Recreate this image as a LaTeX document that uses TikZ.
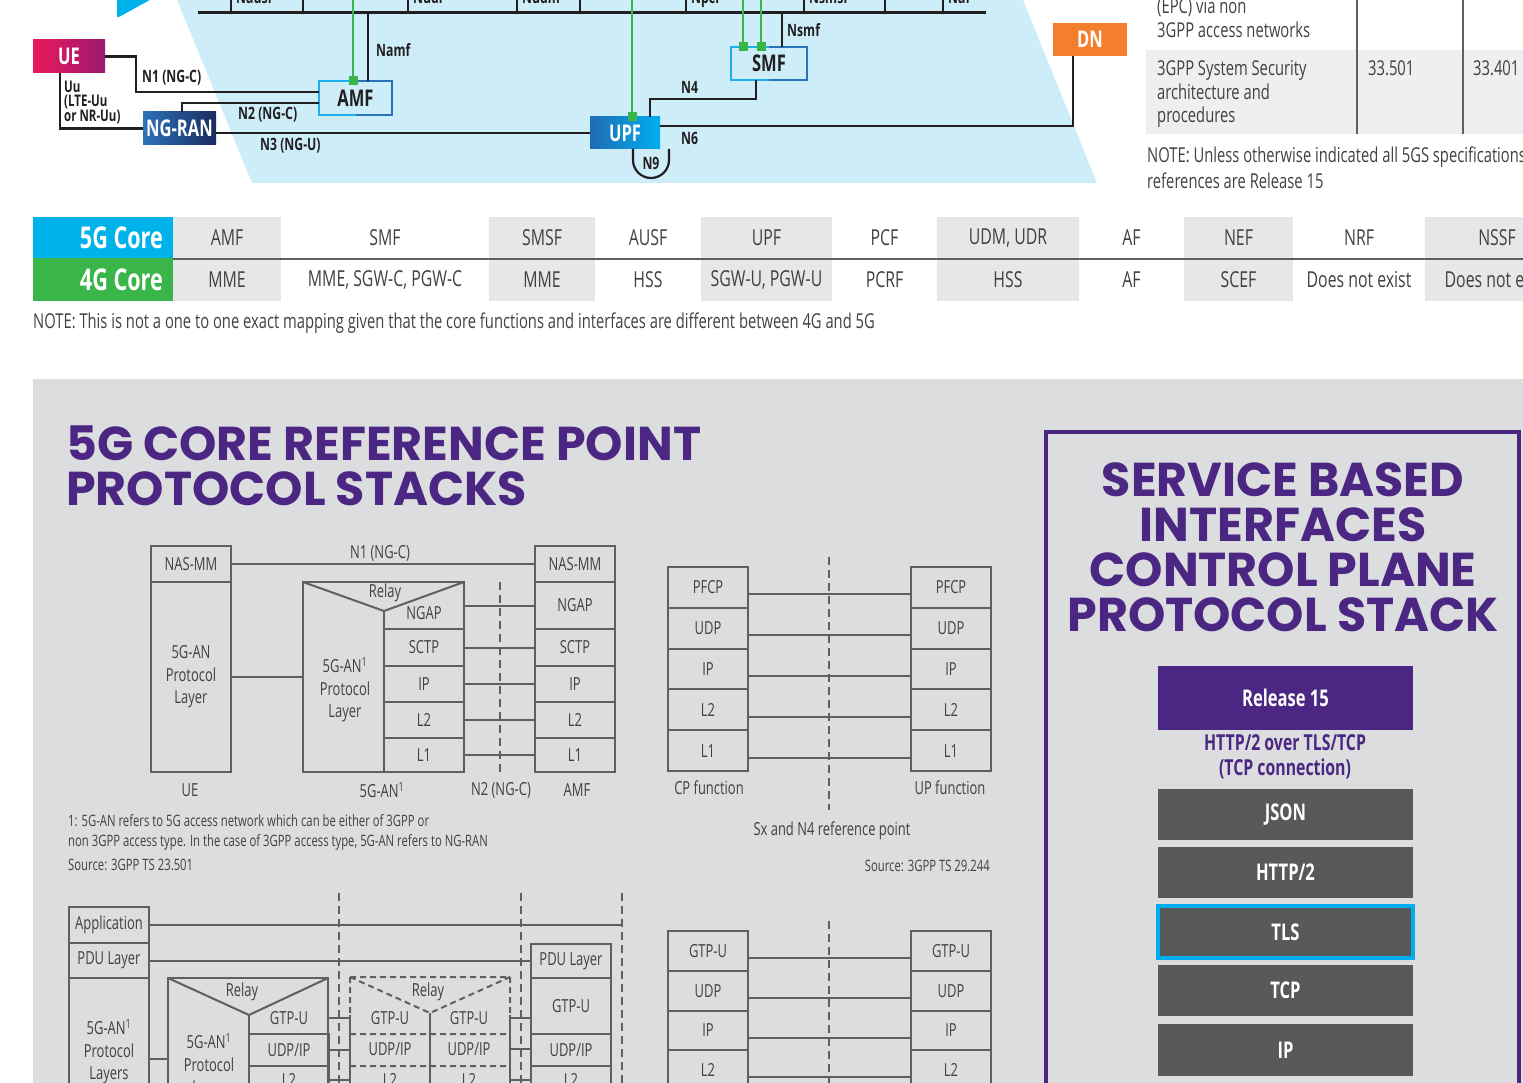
\documentclass[tikz,border=0pt]{standalone}
\usepackage{fontspec}
\setmainfont{Open Sans}
\newfontfamily\condfont[FakeStretch=0.72]{Open Sans}
\newfontfamily\titlefont{Poppins}
\usetikzlibrary{calc}

\definecolor{skyback}{HTML}{CDEEF9}
\definecolor{panelgrey}{HTML}{DCDDDE}
\definecolor{cellgrey}{HTML}{E6E7E8}
\definecolor{rowgrey}{HTML}{EEEFF0}
\definecolor{corepurple}{HTML}{4B2683}
\definecolor{boxgrey}{HTML}{58595B}
\definecolor{stackline}{HTML}{5E5F61}
\definecolor{stacktext}{HTML}{414042}
\definecolor{cyanfive}{HTML}{00B2EA}
\definecolor{greenfour}{HTML}{3AB54A}
\definecolor{sbagreen}{HTML}{39B54A}
\definecolor{dnorange}{HTML}{F37F2C}
\definecolor{uepinkL}{HTML}{E9185C}
\definecolor{uepinkR}{HTML}{9E1A6E}
\definecolor{ranblueL}{HTML}{2C73BA}
\definecolor{ranblueR}{HTML}{1B2B5C}
\definecolor{upfblueL}{HTML}{1F6CB4}
\definecolor{upfblueR}{HTML}{00AEEF}
\definecolor{nfcyan}{HTML}{1DB0EC}
\definecolor{nfblue}{HTML}{2A73BA}
\definecolor{inktext}{HTML}{231F20}

\newcommand{\fsz}[2]{\fontsize{#1}{#2}\selectfont}
% name, left x, top y, bottom y, text
\newcommand{\stk}[5]{\node[stacklayer, minimum height={(#4)-(#3)}] (#1) at (#2,{#3}) {#5};}

\begin{document}
\begin{tikzpicture}[x=1pt, y=-1pt,
    link/.style={draw=inktext, line width=2.2pt},
    sbi/.style={draw=sbagreen, line width=2.2pt},
    lbl/.style={font=\condfont\bfseries\fsz{17}{14}, text=inktext, inner sep=0pt},
    nfbox/.style={minimum width=73pt, minimum height=33pt, inner sep=0pt, outer sep=0pt, font=\condfont\bfseries\fsz{23}{23}, text=white},
    cpbox/.style={nfbox, draw=nfcyan, fill=skyback, line width=2.5pt, text=inktext},
    mapcell/.style={font=\condfont\fsz{22}{22}, text=stacktext, inner sep=0pt},
    hdr/.style={font=\condfont\bfseries\fsz{30}{30}, text=white, inner sep=0pt},
    note/.style={font=\condfont\fsz{20.5}{24}, text=stacktext, inner sep=0pt},
    ttl/.style={font=\titlefont\bfseries\fsz{47.5}{45}, text=corepurple, inner sep=0pt},
    sbabox/.style={minimum width=255pt, inner sep=0pt, font=\condfont\bfseries\fsz{23}{23}, text=white},
    stacklayer/.style={draw=stackline, line width=2pt, minimum width=80pt, inner sep=0pt, outer sep=0pt, anchor=north west, align=center, font=\condfont\fsz{18}{22.5}, text=stacktext},
    stxt/.style={font=\condfont\fsz{18}{22.5}, text=stacktext, inner sep=0pt, align=center},
    foot/.style={font=\condfont\fsz{15.7}{18}, text=stacktext, inner sep=0pt},
    wire/.style={draw=stackline, line width=2pt},
    refline/.style={draw=stackline, line width=1.8pt, dash pattern=on 8pt off 5pt}]

  \useasboundingbox (0,0) rectangle (1523,1083);

  % ---- architecture strip
  \fill[skyback] (173,-10) -- (1019,-10) -- (1097,183) -- (252,183) -- cycle;
  \fill[cyanfive, rounded corners=2pt] (117,-5) -- (159,-5) -- (117,18) -- cycle;

  \draw[link] (198,12.5) -- (986,12.5);
  \foreach \x in {231,303,408,517,580,686,804,885,943}
    \draw[link] (\x,12.5) -- (\x,-5);
  \foreach \x/\t [count=\k] in {236/Nausf, 413/Nudr, 522/Nudm, 691/Npcf, 809/Nsmsf, 948/Naf}
    \node[lbl, anchor=base west] (svc\k) at (\x,4) {\t};

  \node[nfbox, left color=uepinkL, right color=uepinkR, minimum width=72pt] (ue) at (69,56.5) {UE};
  \node[nfbox, left color=ranblueL, right color=ranblueR] (ngran) at (179.5,128.5) {NG-RAN};
  \node[nfbox, left color=upfblueL, right color=upfblueR, minimum width=70pt, minimum height=32pt] (upf) at (625,133) {UPF};
  \node[nfbox, fill=dnorange, minimum width=74pt] (dn) at (1090,39.5) {DN};
  \node[cpbox, minimum height=34pt] (amf) at (355.5,98) {AMF};
  \node[cpbox, minimum width=76pt] (smf) at (769,63.5) {SMF};
  \draw[nfblue, line width=2.5pt] (amf.north) -- (amf.north east) -- (amf.south east) -- (amf.south);
  \draw[nfblue, line width=2.5pt] (smf.north) -- (smf.north east) -- (smf.south east) -- (smf.south);

  % reference points
  \draw[link] (ue.east) -| (136,92) -- ([yshift=6pt]amf.west);
  \draw[link] ([xshift=-9pt]ue.south) |- (ngran.west);
  \draw[link] ([xshift=2.5pt]ngran.north) |- ([yshift=-5pt]amf.west);
  \draw[link] (ngran.east |- upf.west) -- (upf.west);
  \draw[link] ([xshift=25pt]upf.north) |- (756,99) -- ([xshift=-13pt]smf.south);
  \draw[link] ([yshift=7pt]upf.east) -| ([xshift=-17pt]dn.south);
  \draw[link] ([xshift=8pt]upf.south) -- ++(0,11) arc[start angle=180, end angle=360, radius=18pt] -- ([xshift=44pt]upf.south);
  \draw[link] ([xshift=12.5pt]amf.north) -- (368,12.5);
  \draw[link] ([xshift=13pt]smf.north) -- (782,12.5);

  % service based attachments
  \coordinate (gamf) at ([xshift=-2.5pt]amf.north);
  \coordinate (gupf) at ([xshift=7pt]upf.north);
  \coordinate (gsmfa) at ([xshift=-26pt]smf.north);
  \coordinate (gsmfb) at ([xshift=-8pt]smf.north);
  \draw[sbi] (gamf) -- (gamf |- 0,-5);
  \draw[sbi] (gupf) -- (gupf |- 0,-5);
  \draw[sbi] (gsmfa) -- (gsmfa |- 0,-5);
  \draw[sbi] (gsmfb) -- (gsmfb |- 0,-5);
  \foreach \p in {gamf, gupf, gsmfa, gsmfb}
    \fill[sbagreen] (\p) ++(-4.5,-4.5) rectangle ++(9,9);

  \node[lbl, anchor=west] (lnamf) at (376,50) {Namf};
  \node[lbl, anchor=west] (ln1) at (142,78) {N1 (NG-C)};
  \node[lbl, anchor=west] (ln2) at (238,115) {N2 (NG-C)};
  \node[lbl, anchor=west] (ln3) at (260,146) {N3 (NG-U)};
  \node[lbl, anchor=west] (lnsmf) at (787,30) {Nsmf};
  \node[lbl, anchor=west] (ln4) at (681,87) {N4};
  \node[lbl, anchor=west] (ln6) at (681,138) {N6};
  \node[lbl] (ln9) at (651,163) {N9};
  \node[lbl, anchor=north west, align=left, font=\condfont\bfseries\fsz{16}{13.5}] (luu) at (64,81) {Uu\\(LTE-Uu\\or NR-Uu)};

  % ---- spec table (right)
  \fill[rowgrey] (1146,50) rectangle (1530,134);
  \draw[line width=2pt, draw=stackline] (1357,-5) -- (1357,134) (1463,-5) -- (1463,134);
  \foreach \t/\yb [count=\k] in {(EPC) via non/14, 3GPP access networks/38, 3GPP System Security/76, architecture and/100, procedures/123}
    \node[note, anchor=base west] (spec\k) at (1157,\yb) {\t};
  \node[note, anchor=base west] (rel5g) at (1368,76) {33.501};
  \node[note, anchor=base west] (rel4g) at (1473,76) {33.401};
  \node[note, anchor=base west] (relnoteA) at (1147,163) {NOTE: Unless otherwise indicated all 5GS specifications};
  \node[note, anchor=base west] (relnoteB) at (1147,189) {references are Release 15};

  % ---- 5G / 4G mapping
  \fill[cyanfive] (33,217) rectangle (173,258.5);
  \fill[greenfour] (33,258.5) rectangle (173,301);
  \foreach \xa/\xb/\fivegnf/\fourgnf/\cellcol [count=\c] in {
      173/281/AMF/MME/cellgrey,
      281/489/SMF/{MME, SGW-C, PGW-C}/white,
      489/595/SMSF/MME/cellgrey,
      595/701/AUSF/HSS/white,
      701/832/UPF/{SGW-U, PGW-U}/cellgrey,
      832/937/PCF/PCRF/white,
      937/1079/{UDM, UDR}/HSS/cellgrey,
      1079/1184/AF/AF/white,
      1184/1293/NEF/SCEF/cellgrey,
      1293/1425/NRF/Does not exist/white,
      1425/1569/NSSF/Does not exist/cellgrey} {
    \fill[\cellcol] (\xa,217) rectangle (\xb,301);
    \node[mapcell] (fg\c) at ({(\xa+\xb)/2},238) {\fivegnf};
    \node[mapcell] (lg\c) at ({(\xa+\xb)/2},280) {\fourgnf};
  }
  \draw[line width=2.2pt, draw=stackline] (173,259) -- (1530,259);
  \node[hdr, anchor=east] (core5) at (163,238) {5G Core};
  \node[hdr, anchor=east] (core4) at (163,280) {4G Core};
  \node[note, anchor=base west] (mapnote) at (33,328) {NOTE: This is not a one to one exact mapping given that the core functions and interfaces are different between 4G and 5G};

  % ---- protocol stacks panel
  \fill[panelgrey] (33,379) rectangle (1530,1090);
  \node[ttl, anchor=base west] (ttlA) at (66,460) {5G CORE REFERENCE POINT};
  \node[ttl, anchor=base west] (ttlB) at (66,505) {PROTOCOL STACKS};

  % N1 / N2 control plane
  \stk{ueNas}{151}{546}{582}{NAS-MM}
  \stk{ueAn}{151}{582}{772}{5G-AN\\Protocol\\Layer}
  \stk{amfNas}{535}{546}{582}{NAS-MM}
  \stk{amfNgap}{535}{582}{629}{NGAP}
  \stk{amfSctp}{535}{629}{666}{SCTP}
  \stk{amfIp}{535}{666}{702}{IP}
  \stk{amfL2}{535}{702}{738}{L2}
  \stk{amfL1}{535}{738}{772}{L1}
  \node[stacklayer, minimum width=161pt, minimum height=190pt] (anBox) at (303,582) {};
  \draw[wire] (anBox.north west) -- (384,611) -- (anBox.north east);
  \draw[wire] (384,611) -- (384,772);
  \stk{anSctp}{384}{629}{666}{SCTP}
  \stk{anIp}{384}{666}{702}{IP}
  \stk{anL2}{384}{702}{738}{L2}
  \stk{anL1}{384}{738}{772}{L1}
  \node[stxt] (anNgap) at (424,613) {NGAP};
  \node[stxt] (anRelay) at (385,593) {Relay};
  \node[stxt] (anProto) at (345,690) {5G-AN\textsuperscript{1}\\Protocol\\Layer};
  \draw[wire] (ueNas) -- (amfNas);
  \draw[wire] (ueAn.east) -- (ueAn.east -| anBox.west);
  \foreach \n in {amfNgap, amfSctp, amfIp, amfL2, amfL1}
    \draw[wire] (\n.west -| anBox.east) -- (\n.west);
  \draw[refline] (500,582) -- (500,772);
  \node[stxt] (n1lbl) at (380,553) {N1 (NG-C)};
  \node[stxt] (ueLbl) at (190,790) {UE};
  \node[stxt] (anLbl) at (382,790) {5G-AN\textsuperscript{1}};
  \node[stxt] (n2lbl) at (501,790) {N2 (NG-C)};
  \node[stxt] (amfLbl) at (577,790) {AMF};
  \node[foot, anchor=base west] (footA) at (68,826) {1: 5G-AN refers to 5G access network which can be either of 3GPP or};
  \node[foot, anchor=base west] (footB) at (68,846) {non 3GPP access type. In the case of 3GPP access type, 5G-AN refers to NG-RAN};
  \node[foot, anchor=base west] (srcA) at (68,870) {Source: 3GPP TS 23.501};

  % N4 / Sx
  \foreach \t [count=\k] in {PFCP,UDP,IP,L2,L1} {
    \stk{cpfn\k}{668}{567+40.8*(\k-1)}{567+40.8*\k}{\t}
    \stk{upfn\k}{911}{567+40.8*(\k-1)}{567+40.8*\k}{\t}
    \draw[wire] ([yshift=-7pt]cpfn\k.east) -- ([yshift=-7pt]upfn\k.west);
  }
  \draw[refline] (829,557) -- (829,810);
  \node[stxt] (cpLbl) at (709,788) {CP function};
  \node[stxt] (upLbl) at (950,788) {UP function};
  \node[stxt] (sxLbl) at (832,831) {Sx and N4 reference point};
  \node[foot, anchor=base east] (srcB) at (990,871) {Source: 3GPP TS 29.244};

  % N9 / N3 user plane
  \foreach \t [count=\k] in {GTP-U,UDP,IP,L2} {
    \stk{gla\k}{668}{931+39.8*(\k-1)}{931+39.8*\k}{\t}
    \stk{glb\k}{911}{931+39.8*(\k-1)}{931+39.8*\k}{\t}
    \draw[wire] ([yshift=-7pt]gla\k.east) -- ([yshift=-7pt]glb\k.west);
  }
  \draw[refline] (829,921) -- (829,1095);

  % user plane stack
  \stk{ueApp}{69}{907}{943}{Application}
  \stk{uePdu}{69}{943}{978}{PDU Layer}
  \stk{ueAnl}{69}{978}{1126}{5G-AN\textsuperscript{1}\\Protocol\\Layers}
  \node[stacklayer, minimum width=160pt, minimum height=152pt] (anB) at (168,978) {};
  \draw[wire] (anB.north west) -- (249,1015) -- (anB.north east);
  \draw[wire] (249,1015) -- (249,1130);
  \node[stxt] (anbRelay) at (242,992) {Relay};
  \node[stxt] (anbGtp) at (289,1018) {GTP-U};
  \stk{anbUdp}{249}{1034}{1066}{UDP/IP}
  \stk{anbL2}{249}{1066}{1094}{L2}
  \node[stxt] (anbProto) at (209,1066) {5G-AN\textsuperscript{1}\\Protocol\\Layer};

  \coordinate (midNW) at (350,977);
  \coordinate (midNE) at (510,977);
  \coordinate (midV) at (430,1013);
  \draw[wire, dash pattern=on 6pt off 4pt] (midNW) -- (midNE) (midNW) -- (midV) -- (midNE)
    (midNW) -- (350,1015) (midNE) -- (510,1015) (350,1034) -- (510,1034) (350,1066) -- (510,1066);
  \draw[wire] (350,1015) -- (350,1110) (510,1015) -- (510,1110) (midV) -- (430,1110);
  \node[stxt] (midRelay) at (428,992) {Relay};
  \foreach \t/\yc [count=\k] in {GTP-U/1018, {UDP/IP}/1049, L2/1080} {
    \node[stxt] (midL\k) at (390,\yc) {\t};
    \node[stxt] (midR\k) at (469,\yc) {\t};
  }

  \stk{upfPdu}{531}{944}{978}{PDU Layer}
  \stk{upfGtp}{531}{978}{1034}{GTP-U}
  \stk{upfUdp}{531}{1034}{1066}{UDP/IP}
  \stk{upfL2}{531}{1066}{1094}{L2}

  \coordinate (appEnd) at (621,925);
  \draw[wire] (ueApp) -- (appEnd);
  \draw[wire] (uePdu.east) -- (uePdu.east -| upfPdu.west);
  \draw[wire] ([yshift=-7pt]ueAnl.east) -- ++(19,0);
  \draw[wire] (anbGtp.east -| anB.east) -- (anbGtp.east -| midNW);
  \draw[wire] (anbUdp.east) -- (anbUdp.east -| midNW);
  \draw[wire] (anbL2.east) -- (anbL2.east -| midNW);
  \foreach \k in {1,2,3}
    \draw[wire] (midR\k.east -| midNE) -- (midR\k.east -| upfGtp.west);
  \foreach \x in {339,521,622}
    \draw[refline] (\x,893) -- (\x,1095);

  % ---- service based interfaces
  \draw[corepurple, line width=4.5pt] (1046,432) rectangle (1519,1100);
  \foreach \t/\yb [count=\k] in {SERVICE BASED/496, INTERFACES/541, CONTROL PLANE/586, PROTOCOL STACK/631}
    \node[ttl, anchor=base] (sbt\k) at (1283,\yb) {\t};
  \node[sbabox, fill=corepurple, minimum height=64pt] (rel) at (1285.5,698) {Release 15};
  \node[font=\condfont\bfseries\fsz{22}{25}, text=corepurple, align=center, inner sep=0pt] (sbanote) at (1285,757) {HTTP/2 over TLS/TCP\\(TCP connection)};
  \foreach \t/\yc/\h [count=\k] in {JSON/814.5/51, {HTTP/2}/872.5/51, TLS/932/52, TCP/990.5/51, IP/1050/52}
    \node[sbabox, fill=boxgrey, minimum height=\h] (sba\k) at (1285.5,\yc) {\t};
  \draw[upfblueR, line width=3.5pt] (sba3.north west) rectangle (sba3.south east);
\end{tikzpicture}
\end{document}
